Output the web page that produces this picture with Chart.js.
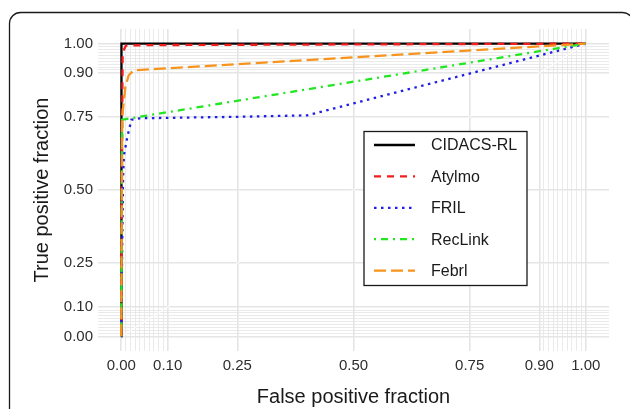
<!DOCTYPE html>
<html>
<head>
<meta charset="utf-8">
<script src="https://cdn.jsdelivr.net/npm/chart.js@4.4.1/dist/chart.umd.min.js"></script>
<style>
  html, body { margin: 0; padding: 0; background: #ffffff; }
  #wrap { width: 630px; height: 409px; }
</style>
</head>
<body>
<div id="wrap"><canvas id="grafico" width="630" height="409"></canvas></div>
<script>
// curvas ROC (fpr = eje x, tpr = eje y)
const fprCidacs = [0, 0, 0.001, 1];
const tprCidacs = [0, 0.55, 1.0, 1.0];

const fprAtylmo = [0, 0.001, 0.003, 0.01, 0.05, 1];
const tprAtylmo = [0, 0.40, 0.97, 0.993, 0.995, 1];

const fprFril = [0, 0.002, 0.004, 0.006, 0.013, 0.022, 0.04, 0.25, 0.40, 1];
const tprFril = [0, 0.30, 0.55, 0.62, 0.68, 0.74, 0.745, 0.75, 0.755, 1];

const fprReclink = [0, 0.002, 0.02, 1];
const tprReclink = [0, 0.74, 0.745, 1];

const fprFebrl = [0, 0.002, 0.009, 0.016, 0.027, 1];
const tprFebrl = [0, 0.75, 0.852, 0.892, 0.909, 1];

const diagonalX = [0, 1];
const diagonalY = [0, 1];

const etiquetas = ['CIDACS-RL', 'Atylmo', 'FRIL', 'RecLink', 'Febrl'];

// cortes principales y secundarios de la rejilla
const cortesMayores = [0, 0.1, 0.25, 0.5, 0.75, 0.9, 1];
const cortesMenores = [0.01, 0.02, 0.03, 0.04, 0.05, 0.06, 0.07, 0.08, 0.09,
                       0.91, 0.92, 0.93, 0.94, 0.95, 0.96, 0.97, 0.98, 0.99];

const puntos = (xs, ys) => xs.map((x, i) => ({ x, y: ys[i] }));
const esMayor = v => cortesMayores.some(m => Math.abs(m - v) < 1e-6);
const todosCortes = [...cortesMayores, ...cortesMenores].sort((a, b) => a - b);

// marco redondeado de la figura
const pluginMarco = {
    id: 'pluginMarco',
    beforeDraw(chart) {
        const ctx = chart.ctx;
        ctx.save();
        ctx.fillStyle = '#ffffff';
        ctx.fillRect(0, 0, chart.width, chart.height);
        ctx.beginPath();
        ctx.roundRect(9.5, 12.5, 624, 420, 11);
        ctx.strokeStyle = '#1a1a1a';
        ctx.lineWidth = 1.3;
        ctx.stroke();
        ctx.restore();
    }
};

// leyenda dentro del panel con recuadro
const pluginLeyenda = {
    id: 'pluginLeyenda',
    afterDatasetsDraw(chart) {
        const ctx = chart.ctx;
        const caja = { x: 364, y: 131.5, w: 163, h: 154 };
        ctx.save();
        ctx.fillStyle = '#ffffff';
        ctx.fillRect(caja.x, caja.y, caja.w, caja.h);
        ctx.strokeStyle = '#1a1a1a';
        ctx.lineWidth = 1.3;
        ctx.strokeRect(caja.x, caja.y, caja.w, caja.h);

        ctx.font = '16px "Liberation Sans", Arial, sans-serif';
        ctx.textBaseline = 'middle';
        ctx.textAlign = 'left';
        etiquetas.forEach((et, i) => {
            const ds = chart.data.datasets.find(d => d.label === et);
            const yy = 145 + i * 31.4;
            ctx.beginPath();
            ctx.setLineDash(ds.borderDash || []);
            ctx.strokeStyle = ds.borderColor;
            ctx.lineWidth = ds.borderWidth;
            ctx.moveTo(374, yy);
            ctx.lineTo(415, yy);
            ctx.stroke();
            ctx.setLineDash([]);
            ctx.fillStyle = '#1a1a1a';
            ctx.fillText(et, 431, yy + 1);
        });
        ctx.restore();
    }
};

function opcionesEje(titulo, esX) {
    return {
        type: 'linear',
        min: -0.05,
        max: 1.05,
        afterBuildTicks: scale => { scale.ticks = todosCortes.map(v => ({ value: v })); },
        afterFit: scale => {
            if (esX) scale.height = 58; else scale.width = 98;
        },
        border: { display: false },
        grid: {
            drawTicks: false,
            color: '#e5e5e5',
            lineWidth: c => esMayor(c.tick.value) ? 1.6 : 0.8
        },
        ticks: {
            autoSkip: false,
            maxRotation: 0,
            padding: esX ? 6 : 5,
            color: '#2e2e2e',
            font: { size: 15 },
            callback: v => esMayor(v) ? v.toFixed(2) : ''
        },
        title: {
            display: true,
            text: titulo,
            color: '#1a1a1a',
            font: { size: 20 },
            padding: esX ? { top: 0, bottom: 0 } : { top: 30, bottom: 0 }
        }
    };
}

Chart.defaults.font.family = '"Liberation Sans", Arial, sans-serif';

new Chart(document.getElementById('grafico'), {
    type: 'line',
    data: {
        datasets: [
            { label: 'diagonal', data: puntos(diagonalX, diagonalY), borderColor: '#ffffff', borderWidth: 1, order: 10 },
            { label: 'CIDACS-RL', data: puntos(fprCidacs, tprCidacs), borderColor: '#000000', borderWidth: 2.3, order: 5 },
            { label: 'Atylmo', data: puntos(fprAtylmo, tprAtylmo), borderColor: '#f21d1d', borderWidth: 2.3, borderDash: [7, 6], order: 4 },
            { label: 'FRIL', data: puntos(fprFril, tprFril), borderColor: '#1f1fe6', borderWidth: 2.3, borderDash: [2.5, 4.5], order: 3 },
            { label: 'RecLink', data: puntos(fprReclink, tprReclink), borderColor: '#22e622', borderWidth: 2.3, borderDash: [2, 5, 7, 5], order: 2 },
            { label: 'Febrl', data: puntos(fprFebrl, tprFebrl), borderColor: '#f7941d', borderWidth: 2.3, borderDash: [12, 5], order: 1 }
        ]
    },
    options: {
        responsive: false,
        animation: false,
        layout: { padding: { left: 0, right: 21, top: 29, bottom: 0 } },
        elements: { point: { radius: 0 }, line: { tension: 0, fill: false } },
        plugins: { legend: { display: false }, tooltip: { enabled: false } },
        scales: {
            x: opcionesEje('False positive fraction', true),
            y: opcionesEje('True positive fraction', false)
        }
    },
    plugins: [pluginMarco, pluginLeyenda]
});
</script>
</body>
</html>
